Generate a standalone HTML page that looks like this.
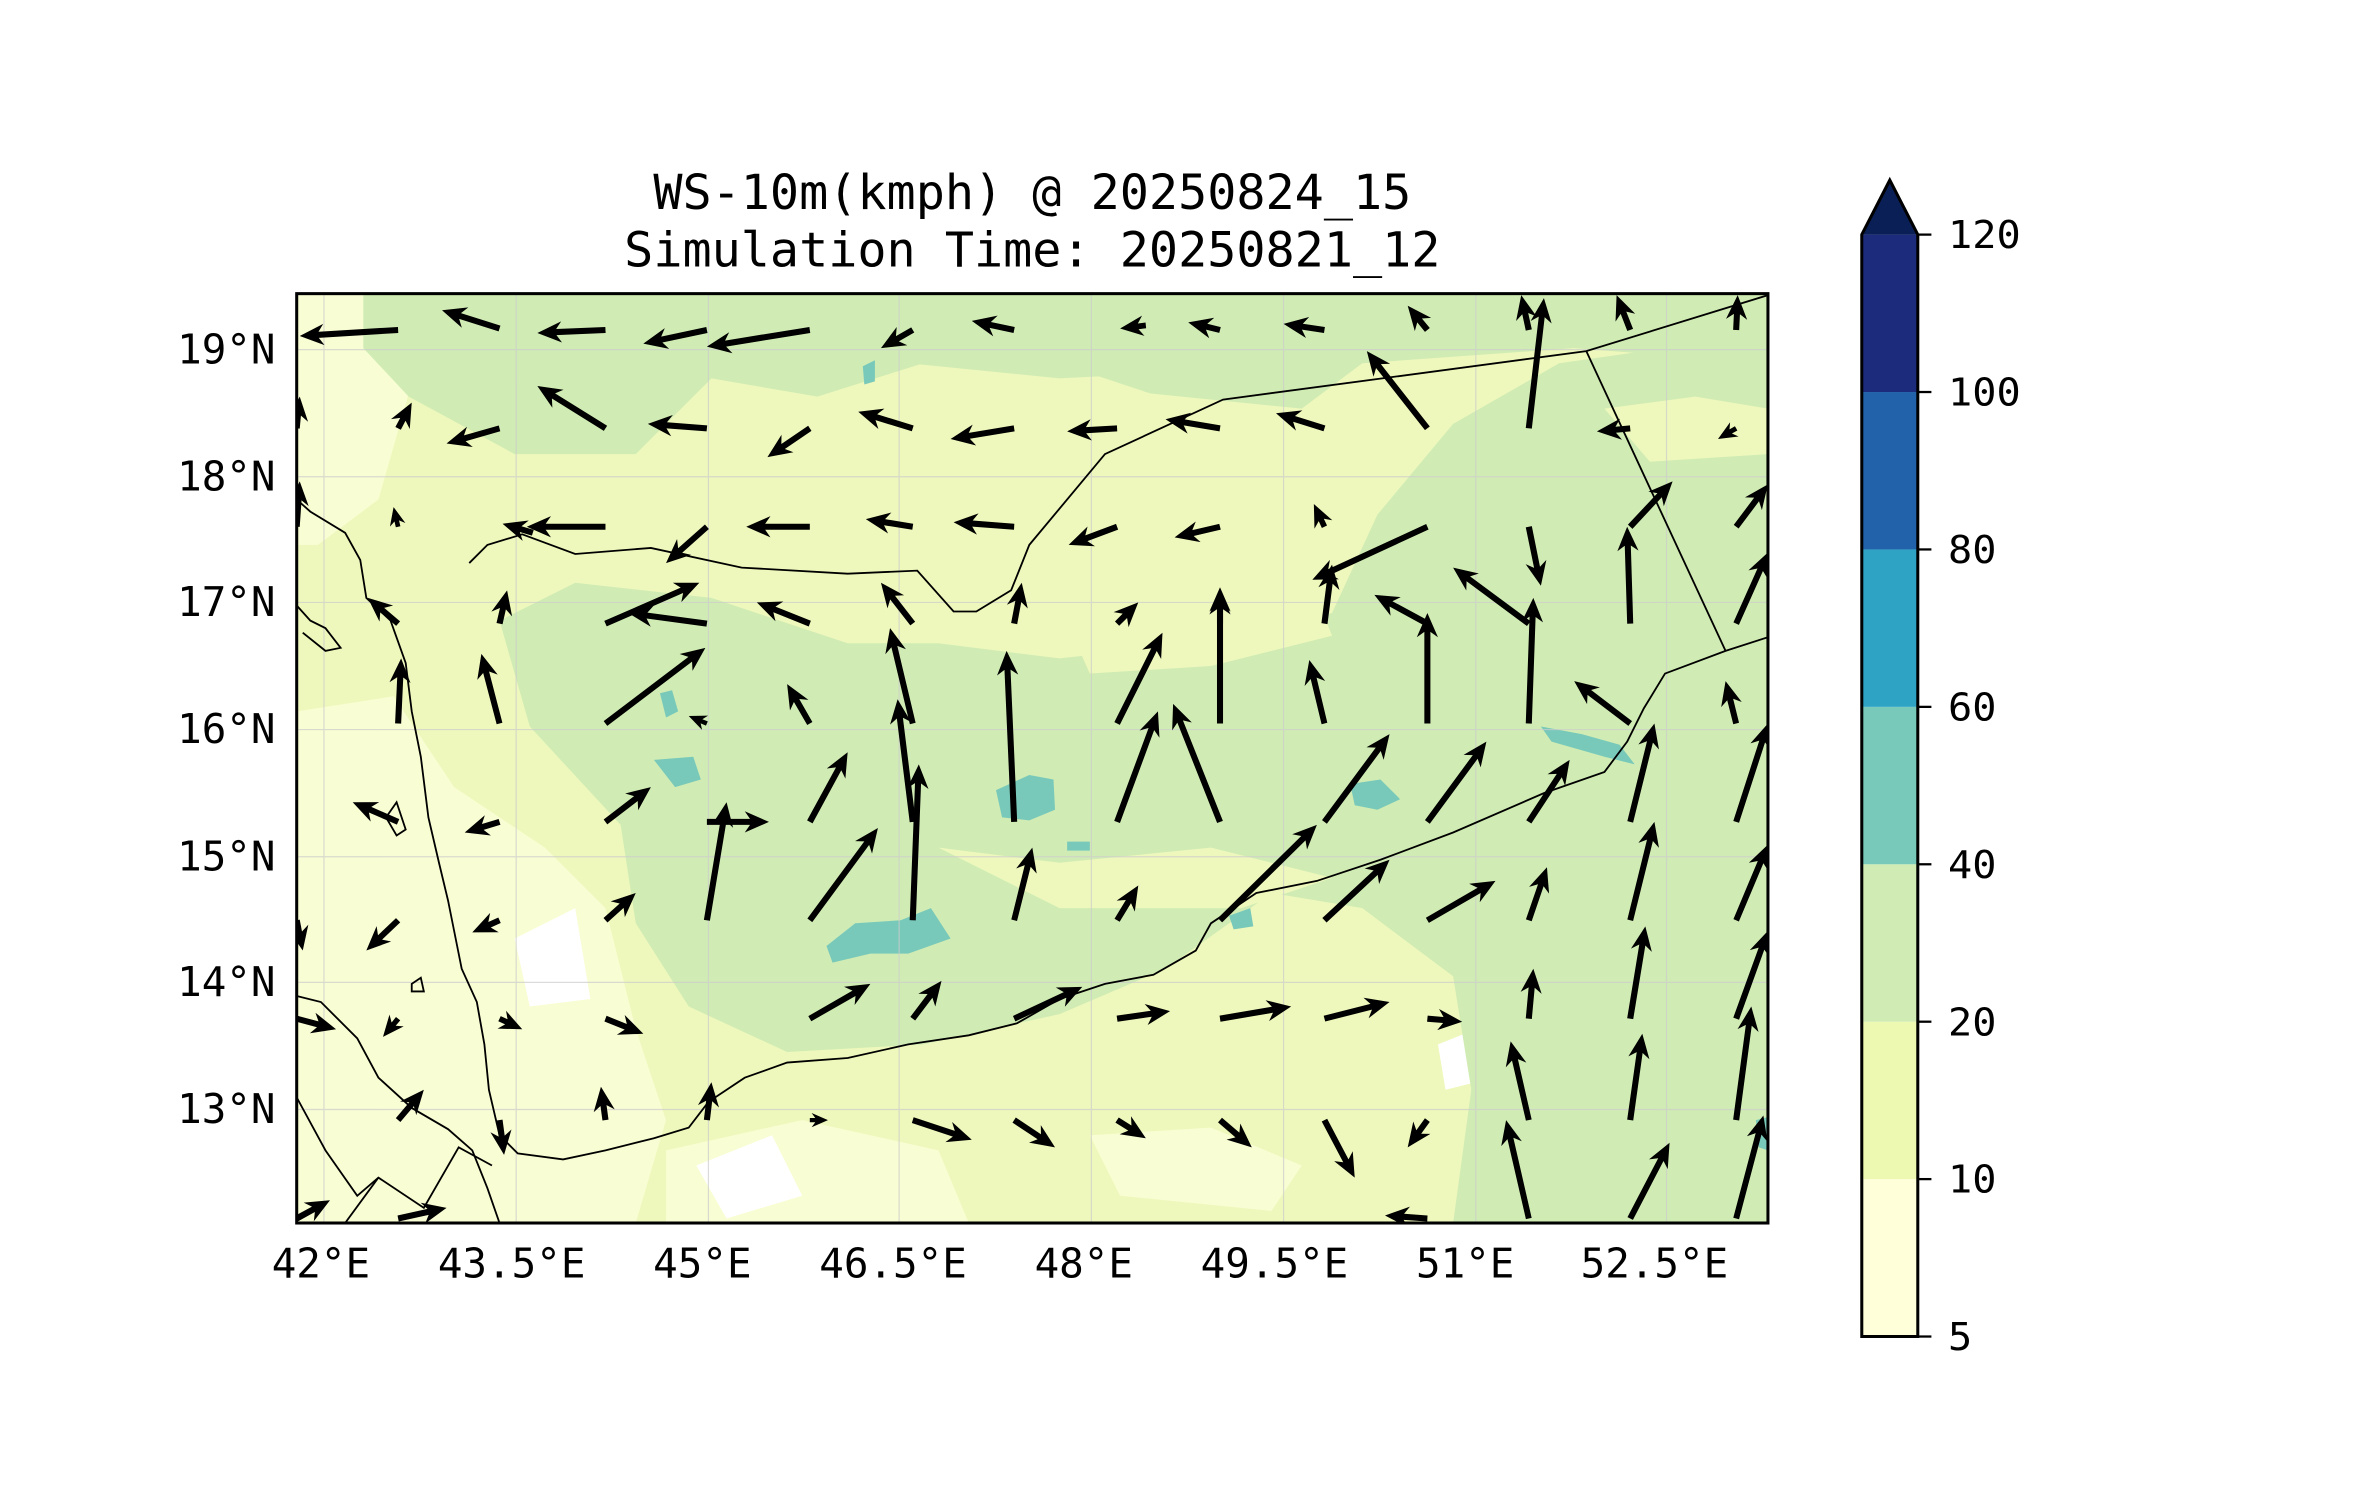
<!DOCTYPE html>
<html><head><meta charset="utf-8"><style>
html,body{margin:0;padding:0;background:#fff;}
svg{display:block;}
text{font-family:"DejaVu Sans Mono","Liberation Mono",monospace;fill:#000;}
</style></head><body>
<svg id="s" width="2371" height="1500" viewBox="0 0 1566.4 991" xmlns="http://www.w3.org/2000/svg">
<defs><clipPath id="pc"><rect x="196" y="194" width="972" height="614"/></clipPath></defs>
<text x="682" y="138" font-size="32" text-anchor="middle">WS-10m(kmph) @ 20250824_15</text>
<text x="682" y="176" font-size="32" text-anchor="middle">Simulation Time: 20250821_12</text>
<g clip-path="url(#pc)">
<rect x="196" y="194" width="972" height="614" fill="#eff8bc"/>
<path fill="#f9fdd3" d="M196,470 L260,460 L300,520 L360,560 L400,600 L420,680 L440,740 L420,808 L196,808 Z"/>
<path fill="#f9fdd3" d="M196,194 L260,194 L270,260 L250,330 L210,360 L196,360 Z"/>
<path fill="#f9fdd3" d="M440,760 L530,740 L620,760 L640,808 L440,808 Z"/>
<path fill="#f9fdd3" d="M720,750 L800,745 L860,770 L840,800 L740,790 Z"/>
<path fill="#fff" d="M460,770 L510,750 L530,790 L480,805 Z"/>
<path fill="#fff" d="M950,690 L975,680 L975,715 L955,720 Z"/>
<path fill="#fff" d="M340,620 L380,600 L390,660 L350,665 Z"/>
<path fill="#d0ecb4" d="M240,194 L620,194 L610,240 L540,262 L470,250 L420,300 L340,300 L270,262 L240,230 Z"/>
<path fill="#d0ecb4" d="M640,194 L1000,194 L990,232 L900,240 L860,270 L760,260 L700,240 L650,230 Z"/>
<path fill="#d0ecb4" d="M330,410 L380,385 L470,395 L560,425 L620,425 L700,435 L790,425 L880,405 L910,340 L960,280 L1030,240 L1100,230 L1168,230 L1168,808 L960,808 L972,720 L960,645 L900,600 L840,590 L770,640 L700,670 L610,690 L520,695 L455,665 L420,610 L410,545 L350,480 Z"/>
<path fill="#eff8bc" d="M700,400 L790,390 L860,370 L880,420 L800,440 L720,445 Z"/>
<path fill="#eff8bc" d="M620,560 L700,570 L800,560 L880,580 L820,600 L700,600 Z"/>
<path fill="#eff8bc" d="M1060,270 L1120,262 L1168,270 L1168,300 L1090,305 Z"/>
<path fill="#d0ecb4" d="M560,195 L1168,195 L1168,240 L1040,230 L900,240 L700,250 L600,240 Z"/>
<path fill="#d0ecb4" d="M1120,700 L1168,690 L1168,808 L1120,808 Z"/>
<g fill="#79c9ba">
<path d="M432,502 L458,500 L463,515 L446,520 Z"/>
<path d="M436,458 L444,456 L448,470 L440,474 Z"/>
<path d="M546,625 L565,610 L595,608 L615,600 L628,620 L600,630 L575,630 L550,636 Z"/>
<path d="M658,522 L680,512 L696,515 L697,535 L680,542 L662,540 Z"/>
<path d="M892,518 L912,515 L925,528 L910,535 L895,532 Z"/>
<path d="M1018,480 L1045,485 L1070,492 L1080,505 L1060,500 L1025,490 Z"/>
<path d="M570,242 L578,238 L578,252 L571,254 Z"/>
<path d="M705,556 L720,556 L720,562 L705,562 Z"/>
<path d="M812,605 L826,600 L828,612 L815,614 Z"/>
<path d="M1160,740 L1168,738 L1168,760 L1162,758 Z"/>
</g>
<g stroke="#ccc" stroke-width="0.8" opacity="0.7">
<line x1="214" y1="194" x2="214" y2="808"/><line x1="341" y1="194" x2="341" y2="808"/><line x1="468" y1="194" x2="468" y2="808"/><line x1="594" y1="194" x2="594" y2="808"/><line x1="721" y1="194" x2="721" y2="808"/><line x1="848" y1="194" x2="848" y2="808"/><line x1="975" y1="194" x2="975" y2="808"/><line x1="1101" y1="194" x2="1101" y2="808"/>
<line x1="196" y1="231" x2="1168" y2="231"/><line x1="196" y1="315" x2="1168" y2="315"/><line x1="196" y1="398" x2="1168" y2="398"/><line x1="196" y1="482" x2="1168" y2="482"/><line x1="196" y1="566" x2="1168" y2="566"/><line x1="196" y1="649" x2="1168" y2="649"/><line x1="196" y1="733" x2="1168" y2="733"/>
</g>
<g fill="none" stroke="#000" stroke-width="1.2">
<path d="M196,330 L205,338 L228,352 L238,370 L242,395 L258,410 L268,438 L272,470 L278,500 L283,540 L290,570 L296,595 L300,615 L305,640 L315,662 L320,690 L323,720 L330,750 L342,762 L372,766 L400,760 L432,752 L455,745 L468,728 L492,712 L520,702 L560,699 L600,690 L640,684 L672,676 L700,660 L730,650 L762,644 L790,628 L800,610 L830,590 L870,582 L912,568 L960,550 L1020,524 L1060,510 L1075,490 L1086,468 L1100,445 L1140,430 L1168,421"/>
<path d="M310,372 L322,360 L345,353 L380,366 L430,362 L490,375 L560,379 L606,377 L630,404 L645,404 L668,390 L680,360 L730,300 L808,264 L1048,232 L1168,195"/>
<path d="M1048,232 L1140,430"/>
<path d="M196,658 L212,662 L236,686 L250,712 L272,732 L296,746 L312,760 L322,785 L330,808"/>
<path d="M196,725 L215,760 L236,790 L250,778 L280,798 L303,758 L325,770"/>
<path d="M228,808 L250,778"/>
<path d="M196,400 L205,410 L215,415 L225,428 L215,430 L200,418"/>
<path d="M255,540 L262,530 L268,548 L262,552 Z"/>
<path d="M272,650 L278,646 L280,655 L272,655 Z"/>
</g>
<g id="arrows" fill="#000"></g>
</g>
<rect x="196" y="194" width="972" height="614" fill="none" stroke="#000" stroke-width="2"/>
<g font-size="27">
<text x="182" y="240" text-anchor="end">19°N</text>
<text x="182" y="324" text-anchor="end">18°N</text>
<text x="182" y="407" text-anchor="end">17°N</text>
<text x="182" y="491" text-anchor="end">16°N</text>
<text x="182" y="575" text-anchor="end">15°N</text>
<text x="182" y="658" text-anchor="end">14°N</text>
<text x="182" y="742" text-anchor="end">13°N</text>
<text x="212" y="844" text-anchor="middle">42°E</text>
<text x="338" y="844" text-anchor="middle">43.5°E</text>
<text x="464" y="844" text-anchor="middle">45°E</text>
<text x="590" y="844" text-anchor="middle">46.5°E</text>
<text x="716" y="844" text-anchor="middle">48°E</text>
<text x="842" y="844" text-anchor="middle">49.5°E</text>
<text x="968" y="844" text-anchor="middle">51°E</text>
<text x="1093" y="844" text-anchor="middle">52.5°E</text>
</g>
<g>
<rect x="1230" y="779" width="37" height="104" fill="#ffffd9"/>
<rect x="1230" y="675" width="37" height="104" fill="#edf8b1"/>
<rect x="1230" y="571" width="37" height="104" fill="#d0ecb4"/>
<rect x="1230" y="467" width="37" height="104" fill="#79c9ba"/>
<rect x="1230" y="363" width="37" height="104" fill="#2ea3c3"/>
<rect x="1230" y="259" width="37" height="104" fill="#2162aa"/>
<rect x="1230" y="155" width="37" height="104" fill="#1d2b7d"/>
<path d="M1230,155 L1248.5,119 L1267,155 Z" fill="#0a1f56"/>
<path d="M1230,155 L1248.5,119 L1267,155 L1267,883 L1230,883 Z" fill="none" stroke="#000" stroke-width="2"/>
<g stroke="#000" stroke-width="1.5">
<line x1="1267" y1="155" x2="1276" y2="155"/><line x1="1267" y1="259" x2="1276" y2="259"/><line x1="1267" y1="363" x2="1276" y2="363"/><line x1="1267" y1="467" x2="1276" y2="467"/><line x1="1267" y1="571" x2="1276" y2="571"/><line x1="1267" y1="675" x2="1276" y2="675"/><line x1="1267" y1="779" x2="1276" y2="779"/><line x1="1267" y1="883" x2="1276" y2="883"/>
</g>
<g font-size="25">
<text x="1287" y="164" textLength="48" lengthAdjust="spacingAndGlyphs">120</text><text x="1287" y="268" textLength="48" lengthAdjust="spacingAndGlyphs">100</text><text x="1287" y="372" textLength="32" lengthAdjust="spacingAndGlyphs">80</text><text x="1287" y="476" textLength="32" lengthAdjust="spacingAndGlyphs">60</text><text x="1287" y="580" textLength="32" lengthAdjust="spacingAndGlyphs">40</text><text x="1287" y="684" textLength="32" lengthAdjust="spacingAndGlyphs">20</text><text x="1287" y="788" textLength="32" lengthAdjust="spacingAndGlyphs">10</text><text x="1287" y="892" textLength="16" lengthAdjust="spacingAndGlyphs">5</text>
</g>
</g>
</svg>
<script>
var A=[
[263,218,198,222],[330,217,292,205],[400,218,355,220],[467,218,425,227],[535,218,467,229],[603,218,582,230],[670,218,642,212],[757,215,740,217],[806,218,785,213],[875,218,848,214],[943,218,930,202],[1010,218,1005,195],[1077,218,1068,195],[1147,218,1148,195],
[196,283,198,262],[263,283,272,266],[330,283,295,293],[400,283,355,255],[467,283,428,280],[535,283,507,302],[603,283,567,272],[670,283,628,290],[738,283,705,285],[806,283,770,277],[875,283,843,273],[943,283,903,232],[1010,283,1020,197],[1077,283,1055,285],[1147,283,1135,290],
[196,348,198,318],[263,348,260,335],[352,352,332,346],[400,348,348,348],[467,348,440,372],[535,348,493,348],[603,348,572,343],[670,348,630,345],[738,348,706,360],[806,348,776,355],[875,348,868,333],[943,348,867,383],[1010,348,1018,387],[1077,348,1105,318],[1147,348,1168,320],
[263,412,243,395],[330,412,335,390],[400,412,462,385],[467,412,415,405],[535,412,500,398],[603,412,582,385],[670,412,675,385],[738,412,752,398],[806,412,806,388],[875,412,880,373],[943,412,908,393],[1010,412,960,375],[1077,412,1075,348],[1147,412,1168,365],
[263,478,265,435],[330,478,318,432],[400,478,466,428],[467,478,455,473],[535,478,520,452],[603,478,588,415],[738,478,768,418],[806,478,806,390],[875,478,865,436],[943,478,943,405],[1010,478,1013,395],[1077,478,1040,450],[1147,478,1140,450],
[263,543,233,530],[330,543,307,550],[400,543,430,520],[467,543,508,543],[535,543,560,497],[603,543,593,462],[670,543,665,430],[738,543,765,470],[806,543,775,465],[875,543,918,485],[943,543,982,490],[1010,543,1037,502],[1077,543,1093,478],[1147,543,1168,478],
[196,608,200,628],[263,608,242,628],[330,608,312,616],[400,608,420,590],[467,608,480,530],[535,608,580,547],[603,608,607,505],[670,608,682,560],[738,608,752,585],[806,608,870,545],[875,608,918,568],[943,608,988,582],[1010,608,1022,573],[1077,608,1093,543],[1147,608,1168,558],
[196,673,222,680],[263,673,253,685],[330,673,345,680],[400,673,425,683],[535,673,575,650],[603,673,622,648],[670,673,715,652],[738,673,773,668],[806,673,853,665],[875,673,918,662],[943,673,966,675],[1010,673,1013,640],[1077,673,1087,612],[1147,673,1168,615],
[263,740,280,720],[330,740,333,763],[400,740,397,718],[467,740,470,715],[535,740,547,740],[603,740,642,753],[670,740,697,758],[738,740,757,752],[806,740,827,758],[875,740,895,778],[943,740,930,758],[1010,740,998,688],[1077,740,1085,683],[1147,740,1157,665],
[196,805,218,793],[263,805,295,798],[943,805,915,803],[1010,805,995,740],[1077,805,1103,755],[1147,805,1165,737]
];
var g=document.getElementById('arrows'),ns='http://www.w3.org/2000/svg';
A.forEach(function(a){
 var dx=a[2]-a[0],dy=a[3]-a[1],L=Math.sqrt(dx*dx+dy*dy);if(L<1)return;
 var ux=dx/L,uy=dy/L,px=-uy,py=ux;
 var hl=Math.min(16,L*0.9),hw=7,sw=2,ha=12.5;
 if(hl<16){hw=hw*hl/16;sw=sw*Math.max(0.4,hl/16);ha=hl*0.78;}
 var bx=a[2]-ux*hl,by=a[3]-uy*hl,ax=a[2]-ux*ha,ay=a[3]-uy*ha;
 var pts=[[a[0]+px*sw,a[1]+py*sw],[ax+px*sw,ay+py*sw],[bx+px*hw,by+py*hw],[a[2],a[3]],[bx-px*hw,by-py*hw],[ax-px*sw,ay-py*sw],[a[0]-px*sw,a[1]-py*sw]];
 var p=document.createElementNS(ns,'polygon');
 p.setAttribute('points',pts.map(function(q){return q[0].toFixed(1)+','+q[1].toFixed(1)}).join(' '));
 g.appendChild(p);
});
</script>
</body></html>
